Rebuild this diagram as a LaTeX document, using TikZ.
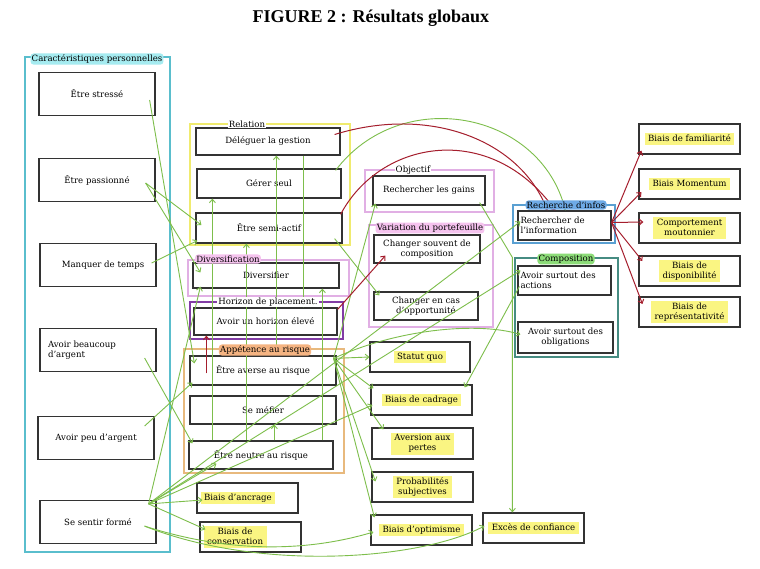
\documentclass[tikz,border=0pt]{standalone}
\usepackage{fontspec}
\setmainfont{DejaVu Serif}
\newfontfamily\titlefont{Liberation Serif}
\usetikzlibrary{arrows.meta,calc}
\definecolor{gline}{RGB}{125,190,75}
\definecolor{rline}{RGB}{165,30,45}
\definecolor{hly}{RGB}{250,245,130}
\definecolor{ccyan}{RGB}{90,190,205}
\definecolor{lcyan}{RGB}{165,235,240}
\definecolor{cyel}{RGB}{240,235,110}
\definecolor{cpink}{RGB}{225,175,228}
\definecolor{lpink}{RGB}{245,195,238}
\definecolor{cpurp}{RGB}{130,60,165}
\definecolor{corg}{RGB}{232,185,125}
\definecolor{lorg}{RGB}{245,180,130}
\definecolor{cblue}{RGB}{90,160,210}
\definecolor{lblue}{RGB}{110,170,230}
\definecolor{cteal}{RGB}{70,140,130}
\definecolor{lgreen}{RGB}{140,220,120}
\newcommand{\hlt}[1]{{\setlength{\fboxsep}{1pt}\colorbox{hly}{\begin{tabular}{@{\hspace{2.5pt}}c@{\hspace{2.5pt}}}#1\end{tabular}}}}
\begin{document}
\begin{tikzpicture}[x=1pt,y=-1pt,
  bx/.style={draw=black!80, line width=1.2pt, fill=white, inner sep=1pt, align=center, font=\fontsize{8.6}{10}\selectfont},
  cont/.style={draw=#1, line width=1.1pt, inner sep=0pt},
  lab/.style={inner sep=1pt, fill=white, font=\fontsize{8.6}{9.5}\selectfont},
  clab/.style={inner sep=1.2pt, fill=#1, rounded corners=3pt, font=\fontsize{8.6}{9.5}\selectfont},
  gar/.style={draw=gline, line width=0.9pt, -{Straight Barb[length=3.5pt,width=6pt]}},
  rar/.style={draw=rline, line width=1pt, -{Straight Barb[length=3.5pt,width=6pt]}}]
\useasboundingbox (0,0) rectangle (760,568);
\fill[white] (0,0) rectangle (760,568);
\node[font=\titlefont\bfseries\fontsize{18}{21}\selectfont] (title) at (371,18) {FIGURE 2 : Résultats globaux};

% containers
\node[cont=ccyan, minimum width=145, minimum height=495] (cpbox) at (97.5,304.5) {};
\node[cont=cyel, minimum width=160, minimum height=121] (relbox) at (270,184.5) {};
\node[cont=cpink, minimum width=161, minimum height=36] (divbox) at (268.5,278) {};
\node[cont=cpurp, minimum width=153, minimum height=37] (horbox) at (266.5,320.5) {};
\node[cont=corg, minimum width=160, minimum height=124] (appbox) at (264,411) {};
\node[cont=cpink, minimum width=129, minimum height=42] (objbox) at (429.5,191) {};
\node[cont=cpink, minimum width=124, minimum height=102] (varbox) at (431,276) {};
\node[cont=cblue, minimum width=102, minimum height=38] (recbox) at (564,224) {};
\node[cont=cteal, minimum width=103, minimum height=99] (combox) at (566.5,307.5) {};

% left boxes
\node[bx, minimum width=116, minimum height=43] (stress) at (97,94) {Être stressé};
\node[bx, minimum width=116, minimum height=43] (passion) at (97,180) {Être passionné};
\node[bx, minimum width=116, minimum height=43] (manque) at (98,265) {\hspace*{10pt}Manquer de temps};
\node[bx, minimum width=116, minimum height=43, text width=100pt, align=left] (beaucoup) at (98,350) {Avoir beaucoup\\d'argent};
\node[bx, minimum width=116, minimum height=43] (peu) at (96,438) {Avoir peu d'argent};
\node[bx, minimum width=116, minimum height=43] (forme) at (98,522) {Se sentir formé};

% middle boxes
\node[bx, minimum width=144, minimum height=27] (deleguer) at (268,141.5) {Déléguer la gestion};
\node[bx, minimum width=144, minimum height=29] (gerer) at (269,183.5) {Gérer seul};
\node[bx, minimum width=146, minimum height=30] (semi) at (269,228) {Être semi-actif};
\node[bx, minimum width=146, minimum height=25] (diversifier) at (266,275.5) {Diversifier};
\node[bx, minimum width=143, minimum height=27] (horizon) at (265.5,321.5) {Avoir un horizon élevé};
\node[bx, minimum width=146, minimum height=29] (averse) at (263,370.5) {Être averse au risque};
\node[bx, minimum width=146, minimum height=28] (mefier) at (263,410) {Se méfier};
\node[bx, minimum width=144, minimum height=28] (neutre) at (261,455) {Être neutre au risque};
\node[bx, minimum width=101, minimum height=30, text width=94pt, align=left] (ancrage) at (247.5,498) {\hlt{Biais d'ancrage}};
\node[bx, minimum width=101, minimum height=30, text width=94pt, align=left] (conservation) at (250.5,537) {\hlt{Biais de\hspace{14pt}\\conservation}};

% column 3
\node[bx, minimum width=112, minimum height=29] (gains) at (429,190.5) {Rechercher les gains};
\node[bx, minimum width=106, minimum height=28] (souvent) at (427,249) {Changer souvent de\\composition};
\node[bx, minimum width=104, minimum height=28] (opport) at (426,306) {Changer en cas\\d'opportunité};
\node[bx, minimum width=100, minimum height=30] (statu) at (420,357) {\hlt{Statut quo}};
\node[bx, minimum width=101, minimum height=30] (cadrage) at (421.5,400) {\hlt{Biais de cadrage}};
\node[bx, minimum width=101, minimum height=31] (aversion) at (422.5,443.5) {\hlt{Aversion aux\\pertes}};
\node[bx, minimum width=101, minimum height=30] (proba) at (422.5,487) {\hlt{Probabilités\\subjectives}};
\node[bx, minimum width=101, minimum height=30] (optim) at (421.5,530) {\hlt{Biais d'optimisme}};
\node[bx, minimum width=101, minimum height=30] (exces) at (533.5,528) {\hlt{Excès de confiance}};

% column 4
\node[bx, minimum width=93, minimum height=29, text width=88pt, align=left] (info) at (564.5,225.5) {Rechercher de\\l'information};
\node[bx, minimum width=93, minimum height=29, text width=88pt, align=left] (actions) at (564.5,280.5) {Avoir surtout des\\actions};
\node[bx, minimum width=95, minimum height=31] (obligations) at (565.5,337.5) {Avoir surtout des\\obligations};

% right boxes
\node[bx, minimum width=101, minimum height=30] (famil) at (689.5,139) {\hlt{Biais de familiarité}};
\node[bx, minimum width=101, minimum height=30] (moment) at (689.5,184) {\hlt{Biais Momentum}};
\node[bx, minimum width=101, minimum height=30] (mouton) at (689.5,228) {\hlt{Comportement\\moutonnier}};
\node[bx, minimum width=101, minimum height=30] (dispo) at (689.5,271) {\hlt{Biais de\\disponibilité}};
\node[bx, minimum width=101, minimum height=30] (repres) at (689.5,312) {\hlt{Biais de\\représentativité}};

% green connectors
\draw[gar] ($(stress.east)+(-6,6)$) -- ($(averse.north west)+(5,8)$);
\draw[gar] ($(passion.east)+(-10,3)$) -- ($(semi.west)+(6,-3)$);
\draw[gar] ($(passion.east)+(-10,3)$) -- ($(diversifier.west)+(8,-3)$);
\draw[gar] ($(manque.east)+(-5,-2)$) -- ($(semi.south west)+(2,-3)$);
\draw[gar] ($(beaucoup.east)+(-12,8)$) -- ($(neutre.north west)+(4,3)$);
\draw[gar] ($(peu.east)+(-10,-12)$) -- ($(averse.south west)+(3,-3)$);
\coordinate (fh) at ($(forme.north east)+(-8,4)$);
\draw[gar] (fh) -- ($(ancrage.west)+(6,2)$);
\draw[gar] (fh) -- ($(conservation.north west)+(6,8)$);
\draw[gar] (fh) -- ($(neutre.south west)+(28,-6)$);
\draw[gar] (fh) -- ($(diversifier.south west)+(8,-2)$);
\draw[gar] (fh) -- ($(cadrage.west)+(2,5)$);
\draw[gar] (fh) -- ($(info.west)+(3,-4)$);
\draw[gar] (fh) -- ($(actions.west)+(3,-10)$);
\coordinate (fb) at ($(forme.south east)+(-12,-18)$);
\draw[gar] (fb) .. controls (250,560) and (330,545) .. ($(optim.west)+(3,2)$);
\draw[gar] (fb) .. controls (260,572) and (420,560) .. ($(exces.west)+(2,-2)$);
\draw[gar] ($(neutre.north west)+(24,0)$) -- ($(gerer.south west)+(16,0)$);
\draw[gar] ($(neutre.north west)+(58,0)$) -- ($(semi.south west)+(51,0)$);
\draw[gar] ($(averse.north west)+(87,0)$) -- ($(deleguer.south west)+(81,0)$);
\draw[gar] ($(deleguer.south west)+(108,0)$) -- ($(horizon.north west)+(110,0)$);
\draw[gar] ($(neutre.north west)+(134,0)$) -- ($(diversifier.south west)+(130,0)$);
\draw[gar] ($(neutre.north west)+(86,0)$) -- ($(mefier.south west)+(85,0)$);
\coordinate (ah) at ($(averse.north east)+(-3,3)$);
\draw[gar] (ah) -- (statu.west);
\draw[gar] (ah) -- ($(cadrage.north west)+(3,4)$);
\draw[gar] (ah) -- ($(aversion.north west)+(12,2)$);
\draw[gar] (ah) -- ($(proba.north west)+(4,10)$);
\draw[gar] (ah) -- ($(optim.north west)+(4,3)$);
\draw[gar] (ah) -- ($(gains.south west)+(3,-2)$);
\draw[gar] (ah) .. controls (400,328) and (480,322) .. ($(obligations.west)+(3,-3)$);
\draw[gar] ($(semi.south east)+(-8,-5)$) -- ($(opport.north west)+(6,4)$);
\draw[gar] ($(gerer.north east)+(-6,2)$) .. controls (400,85) and (540,110) .. ($(info.north west)+(48,0)$);
\draw[gar] ($(gains.south east)+(-6,-3)$) -- ($(exces.north west)+(30,-255)$) -- ($(exces.north west)+(30,0)$);
\draw[gar] ($(actions.west)+(2,6)$) -- ($(cadrage.north east)+(-8,3)$);

% red connectors
\draw[rar] ($(deleguer.east)+(-6,-7)$) .. controls (430,105) and (520,140) .. ($(info.north west)+(30,0)$);
\draw[rar] ($(semi.north east)+(-2,2)$) .. controls (380,140) and (490,120) .. ($(info.north west)+(38,0)$);
\draw[rar] ($(horizon.north east)+(0,2)$) -- ($(souvent.south west)+(12,-8)$);
\draw[rar] ($(averse.north west)+(17,18)$) -- ($(horizon.south west)+(13,0)$);
\coordinate (ih) at ($(info.east)+(0,-3)$);
\draw[rar] (ih) -- ($(famil.south west)+(3,-4)$);
\draw[rar] (ih) -- ($(moment.west)+(3,8)$);
\draw[rar] (ih) -- ($(mouton.west)+(5,-6)$);
\draw[rar] (ih) -- ($(dispo.west)+(4,-10)$);
\draw[rar] (ih) -- ($(repres.west)+(4,-8)$);

% container labels
\node[clab=lcyan] (cplab) at (97,59) {Caractéristiques personnelles};
\node[lab] (rellab) at (247,124) {Relation};
\node[clab=lpink] (divlab) at (228,259) {Diversification};
\node[lab] (horlab) at (268,302) {Horizon de placement.};
\node[clab=lorg] (applab) at (265,350) {Appétence au risque};
\node[lab] (objlab) at (413,170) {Objectif};
\node[clab=lpink] (varlab) at (430,228) {Variation du portefeuille};
\node[clab=lblue] (reclab) at (566,205) {Recherche d'infos};
\node[clab=lgreen] (comlab) at (566,259) {Composition};
\end{tikzpicture}
\end{document}
